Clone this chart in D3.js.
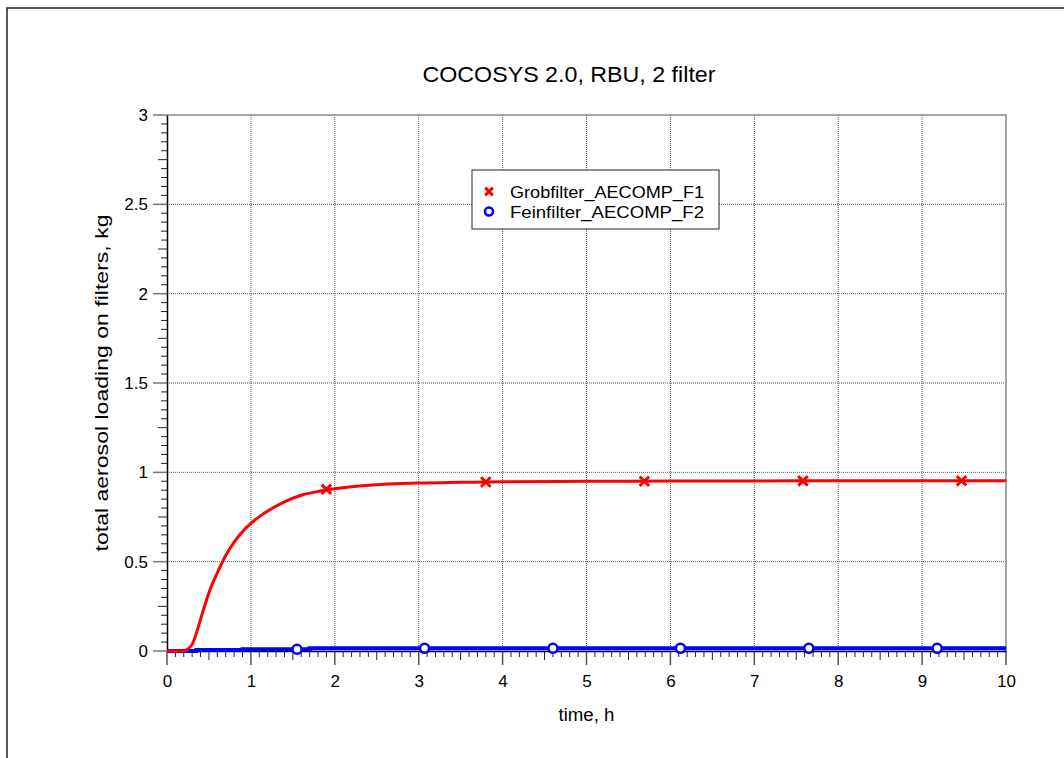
<!DOCTYPE html>
<html>
<head>
<meta charset="utf-8">
<script src="https://cdn.jsdelivr.net/npm/d3@7"></script>
<style>
  body { margin: 0; background: #fff; }
  svg { display: block; font-family: "Liberation Sans", Arial, sans-serif; }
</style>
</head>
<body>
<div id="chart"></div>
<script>
// data
var grobTime = [0, 0.2, 0.25, 0.3, 0.35, 0.4, 0.45, 0.5, 0.6, 0.7, 0.8, 0.9, 1.0, 1.2, 1.4, 1.6, 1.8, 2.0, 2.2, 2.5, 2.8, 3.0, 3.5, 4, 5, 6, 7, 8, 9, 10];
var grobLoad = [0, 0, 0.012, 0.037, 0.1, 0.177, 0.255, 0.326, 0.438, 0.535, 0.61, 0.668, 0.714, 0.783, 0.835, 0.872, 0.893, 0.908, 0.919, 0.93, 0.937, 0.94, 0.944, 0.947, 0.95, 0.951, 0.952, 0.953, 0.953, 0.953];
var grobMarkTime = [1.9, 3.8, 5.69, 7.58, 9.47];
var grobMarkLoad = [0.905, 0.946, 0.95, 0.952, 0.953];

var feinTime = [0, 0.35, 0.9, 1.7, 10];
var feinLoad = [0, 0.005, 0.01, 0.015, 0.015];
var feinMarkTime = [1.55, 3.07, 4.6, 6.12, 7.65, 9.18];
var feinMarkLoad = [0.01, 0.015, 0.015, 0.015, 0.015, 0.015];

var xTicks = [0, 1, 2, 3, 4, 5, 6, 7, 8, 9, 10];
var yTicks = [0, 0.5, 1, 1.5, 2, 2.5, 3];
var seriesNames = ["Grobfilter_AECOMP_F1", "Feinfilter_AECOMP_F2"];

var W = 1064, H = 758;
var margin = {top: 115, right: 58, bottom: 107, left: 167},
    width = W - margin.left - margin.right,
    height = H - margin.top - margin.bottom;

var root = d3.select("#chart").append("svg")
    .attr("width", W)
    .attr("height", H);

// outer frame (top and left edges only visible)
root.append("path")
    .attr("d", "M7,758V8H1064")
    .attr("fill", "none")
    .attr("stroke", "#222")
    .attr("stroke-width", 1.5);

root.append("text")
    .attr("x", 569)
    .attr("y", 82)
    .attr("text-anchor", "middle")
    .attr("textLength", 293)
    .attr("lengthAdjust", "spacingAndGlyphs")
    .style("font-size", "22px")
    .text("COCOSYS 2.0, RBU, 2 filter");

var svg = root.append("g")
    .attr("transform", "translate(" + margin.left + "," + margin.top + ")");

var x = d3.scaleLinear().domain([0, 10]).range([0, width]);
var y = d3.scaleLinear().domain([0, 3]).range([height, 0]);

// grid
svg.selectAll(".vgrid")
    .data(xTicks.slice(1, -1))
  .enter().append("line")
    .attr("x1", function(d) { return x(d); })
    .attr("x2", function(d) { return x(d); })
    .attr("y1", 0).attr("y2", height)
    .attr("stroke", "#555")
    .attr("stroke-width", 1)
    .attr("stroke-dasharray", "1,1");

svg.selectAll(".hgrid")
    .data(yTicks.slice(1, -1))
  .enter().append("line")
    .attr("y1", function(d) { return y(d); })
    .attr("y2", function(d) { return y(d); })
    .attr("x1", 0).attr("x2", width)
    .attr("stroke", "#555")
    .attr("stroke-width", 1)
    .attr("stroke-dasharray", "1,1");

// top and right frame
svg.append("path")
    .attr("d", "M0,0H" + width + "V" + height)
    .attr("fill", "none")
    .attr("stroke", "#888")
    .attr("stroke-width", 1.5);

// minor ticks
var xMinor = d3.range(0, 101).map(function(i) { return i / 10; });
svg.selectAll(".xminor")
    .data(xMinor)
  .enter().append("line")
    .attr("x1", function(d) { return x(d); })
    .attr("x2", function(d) { return x(d); })
    .attr("y1", height)
    .attr("y2", function(d, i) { return height + (i % 10 === 0 ? 14 : (i % 5 === 0 ? 9 : 6)); })
    .attr("stroke", function(d, i) { return i % 10 === 0 ? "#555" : "#222"; })
    .attr("stroke-width", function(d, i) { return i % 10 === 0 ? 1.5 : 1; });

var yMinor = d3.range(0, 61).map(function(i) { return i / 20; });
svg.selectAll(".yminor")
    .data(yMinor)
  .enter().append("line")
    .attr("y1", function(d) { return y(d); })
    .attr("y2", function(d) { return y(d); })
    .attr("x1", 0)
    .attr("x2", function(d, i) { return -(i % 10 === 0 ? 14 : (i % 5 === 0 ? 9 : 6)); })
    .attr("stroke", function(d, i) { return i % 10 === 0 ? "#777" : "#222"; })
    .attr("stroke-width", function(d, i) { return i % 10 === 0 ? 1.5 : 1; });

// axes lines and labels
var xAxis = d3.axisBottom(x).tickValues(xTicks).tickSize(0).tickPadding(24).tickFormat(d3.format("d"));
var yAxis = d3.axisLeft(y).tickValues(yTicks).tickSize(0).tickPadding(19).tickFormat(function(d) { return String(d); });

var gx = svg.append("g")
    .attr("transform", "translate(0," + height + ")")
    .call(xAxis);
gx.select(".domain").attr("stroke", "#000").attr("stroke-width", 1.5);
gx.selectAll("text").style("font-size", "17px").attr("fill", "#000");

var gy = svg.append("g")
    .call(yAxis);
gy.select(".domain").attr("stroke", "#000").attr("stroke-width", 1.5);
gy.selectAll("text").style("font-size", "17px").attr("fill", "#000");

svg.append("text")
    .attr("x", width / 2)
    .attr("y", height + 70)
    .attr("text-anchor", "middle")
    .attr("textLength", 56)
    .attr("lengthAdjust", "spacingAndGlyphs")
    .style("font-size", "18px")
    .text("time, h");

svg.append("text")
    .attr("transform", "rotate(-90)")
    .attr("x", -height / 2)
    .attr("y", -59)
    .attr("text-anchor", "middle")
    .attr("textLength", 337)
    .attr("lengthAdjust", "spacingAndGlyphs")
    .style("font-size", "18px")
    .text("total aerosol loading on filters, kg");

// curves
var grob = grobTime.map(function(t, i) { return [t, grobLoad[i]]; });
var fein = feinTime.map(function(t, i) { return [t, feinLoad[i]]; });

var line = d3.line()
    .x(function(d) { return x(d[0]); })
    .y(function(d) { return y(d[1]); });

svg.append("path")
    .datum(fein)
    .attr("fill", "none")
    .attr("stroke", "#0000ff")
    .attr("stroke-width", 4)
    .attr("d", line.curve(d3.curveStepAfter));

svg.append("path")
    .datum(grob)
    .attr("fill", "none")
    .attr("stroke", "#ff0000")
    .attr("stroke-width", 3)
    .attr("d", line.curve(d3.curveMonotoneX));

// markers
var cross = d3.symbol().type(d3.symbolX).size(60);
svg.selectAll(".grobmark")
    .data(grobMarkTime)
  .enter().append("path")
    .attr("transform", function(d, i) { return "translate(" + x(d) + "," + y(grobMarkLoad[i]) + ")"; })
    .attr("d", cross)
    .attr("stroke", "#ff0000")
    .attr("stroke-width", 3)
    .attr("fill", "none");

svg.selectAll(".feinmark")
    .data(feinMarkTime)
  .enter().append("circle")
    .attr("cx", function(d) { return x(d); })
    .attr("cy", function(d, i) { return y(feinMarkLoad[i]); })
    .attr("r", 4.5)
    .attr("fill", "#fff")
    .attr("stroke", "#0000ff")
    .attr("stroke-width", 2.5);

// legend
var legend = root.append("g").attr("transform", "translate(472,170)");
legend.append("rect")
    .attr("x", 0).attr("y", 0)
    .attr("width", 247).attr("height", 59)
    .attr("fill", "#fff")
    .attr("stroke", "#222")
    .attr("stroke-width", 1);

legend.append("path")
    .attr("transform", "translate(17,21.5)")
    .attr("d", d3.symbol().type(d3.symbolX).size(40))
    .attr("stroke", "#ff0000")
    .attr("stroke-width", 3);
legend.append("circle")
    .attr("cx", 17).attr("cy", 41.5).attr("r", 4)
    .attr("fill", "#fff")
    .attr("stroke", "#0000ff")
    .attr("stroke-width", 2.5);

legend.selectAll(".ltext")
    .data(seriesNames)
  .enter().append("text")
    .attr("x", 38)
    .attr("y", function(d, i) { return 28 + i * 20; })
    .attr("textLength", 194)
    .attr("lengthAdjust", "spacingAndGlyphs")
    .style("font-size", "17px")
    .text(function(d) { return d; });
</script>
</body>
</html>
